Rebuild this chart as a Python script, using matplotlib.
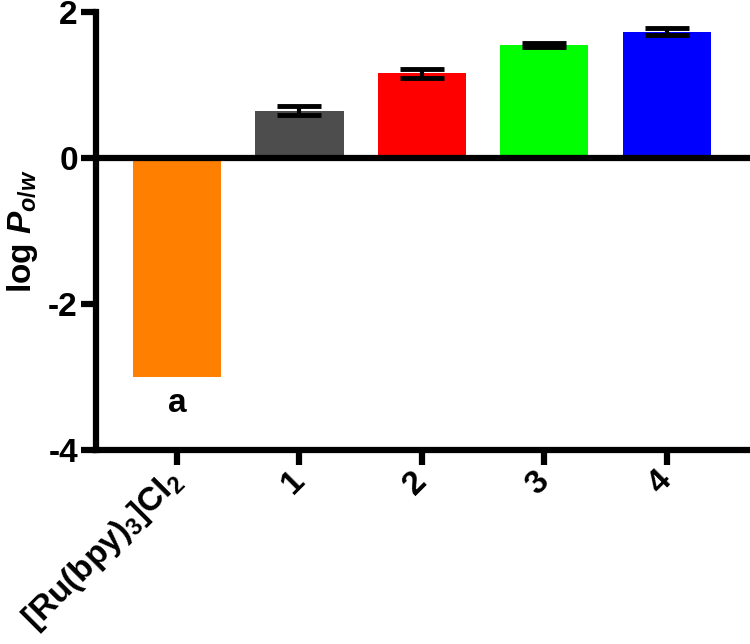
import matplotlib
matplotlib.use("Agg")
import matplotlib.pyplot as plt
import numpy as np

categories = [r"[Ru(bpy)$_\mathbf{3}$]Cl$_\mathbf{2}$", "1", "2", "3", "4"]
values = [-3.0, 0.65, 1.16, 1.55, 1.73]
errors = [0.0, 0.06, 0.06, 0.03, 0.05]
colors = ["#FF8000", "#4D4D4D", "#FF0000", "#00FF00", "#0000FF"]
yticks = [-4, -2, 0, 2]

plt.rcParams["font.family"] = ["Liberation Sans", "DejaVu Sans"]
plt.rcParams["font.weight"] = "bold"
plt.rcParams["mathtext.fontset"] = "custom"
plt.rcParams["mathtext.rm"] = "Liberation Sans:bold"
plt.rcParams["mathtext.bf"] = "Liberation Sans:bold"
plt.rcParams["mathtext.it"] = "Liberation Sans:italic:bold"
plt.rcParams["axes.unicode_minus"] = False

fig = plt.figure(figsize=(7.5, 6.44), dpi=100)
ax = fig.add_axes([96/750, 1 - 450/644, 1 - 96/750, (450 - 12)/644])

x = np.arange(len(values))
ax.bar(x, values, width=0.72, color=colors, zorder=2)
ax.errorbar(x[1:], values[1:], yerr=errors[1:], fmt="none", ecolor="black",
            elinewidth=3, capsize=16, capthick=3.5, zorder=3)
ax.axhline(0, color="black", lw=4.5, zorder=4)

ax.annotate("a", xy=(x[0], values[0]), xytext=(0, -8), textcoords="offset points",
            ha="center", va="top", fontsize=24, fontweight="bold")

ax.set_xlim(-0.662, 4.68)
ax.set_ylim(-4, 2)
ax.set_yticks(yticks)
ax.set_yticklabels([str(t) for t in yticks])
ax.set_xticks(x)
ax.set_xticklabels(categories, rotation=45, ha="right", va="center",
                   rotation_mode="anchor")

for s in ["top", "right"]:
    ax.spines[s].set_visible(False)
for s in ["left", "bottom"]:
    ax.spines[s].set_linewidth(4.5)
    ax.spines[s].set_capstyle("projecting")

ax.tick_params(axis="both", direction="out", length=11, width=4.5,
               labelsize=24, pad=2)
ax.tick_params(axis="x", pad=8)
for lab in ax.get_xticklabels() + ax.get_yticklabels():
    lab.set_fontweight("bold")

ax.set_ylabel(r"log $P_{o/w}$", fontsize=24, fontweight="bold", labelpad=6)

fig.savefig("out.png", dpi=100)
